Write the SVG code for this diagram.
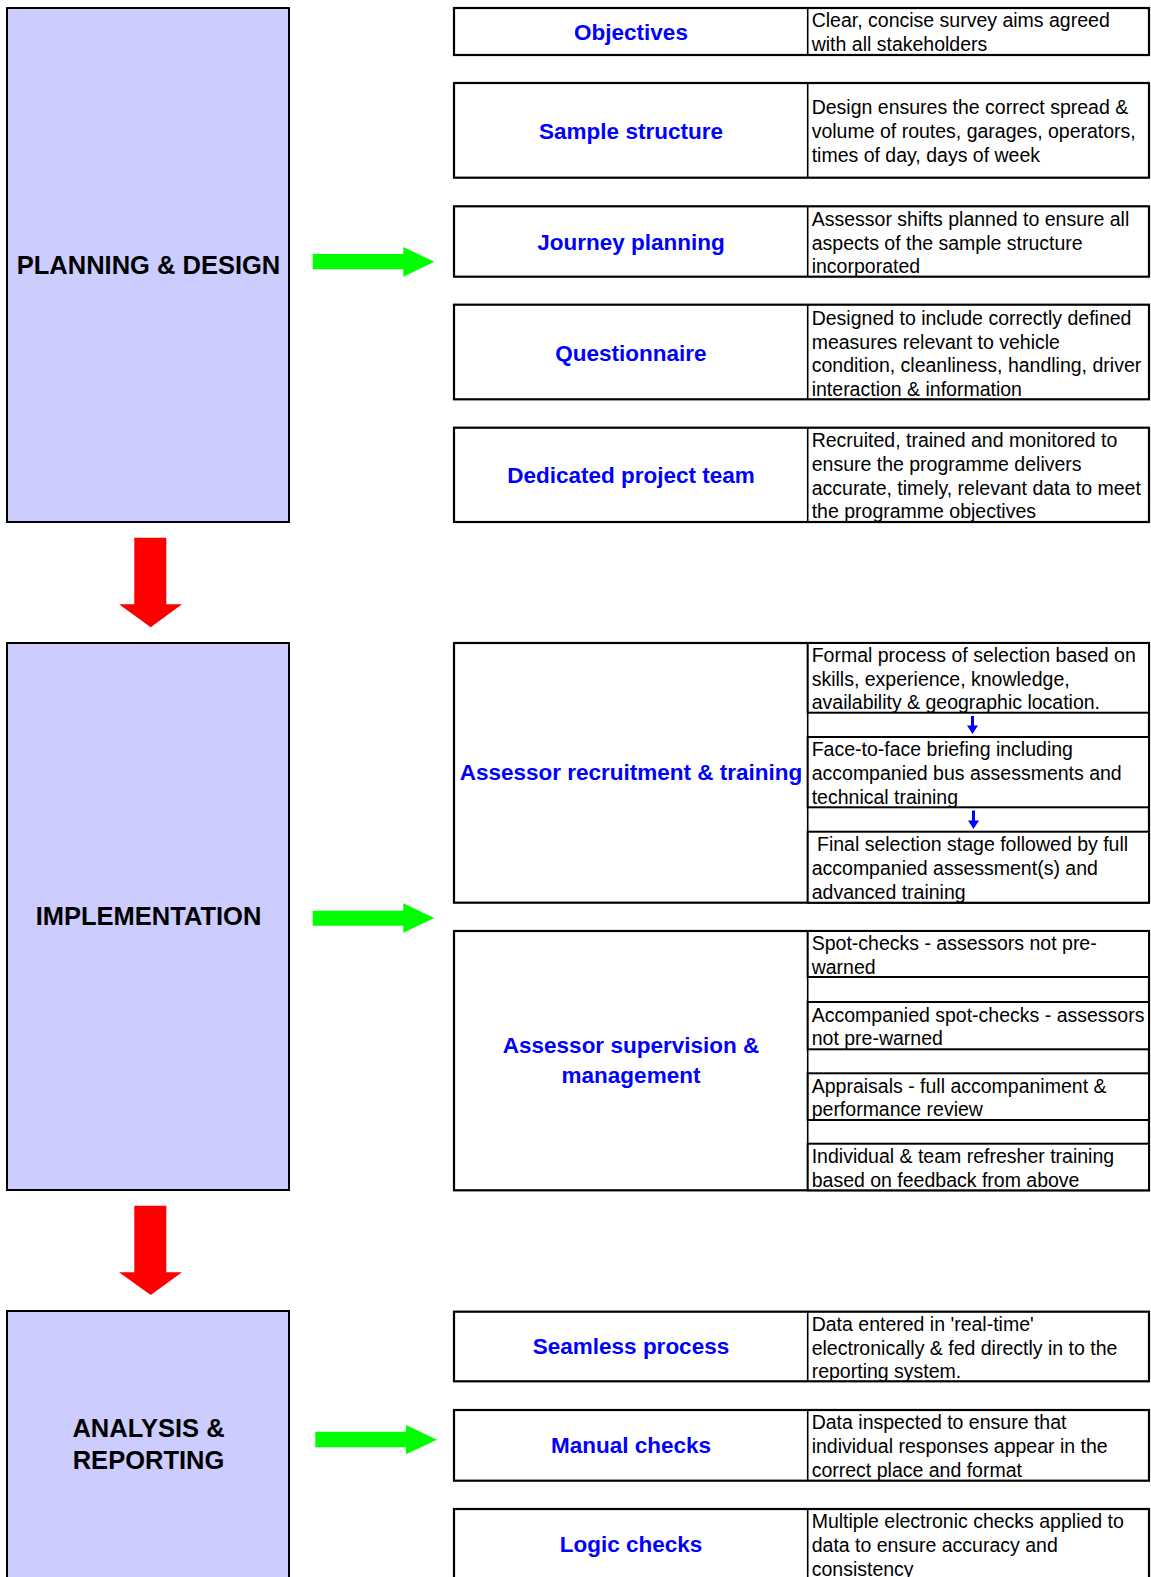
<svg xmlns="http://www.w3.org/2000/svg" width="1151" height="1577" viewBox="0 0 1151 1577">
<style>
.phase{fill:#CCCCFF;stroke:#000;stroke-width:2}
.box{fill:#fff;stroke:#000;stroke-width:2.2}
.div{stroke:#000;stroke-width:1.6}
.sub{fill:#fff;stroke:#000;stroke-width:2}
.plab{font-family:"Liberation Sans",Arial,sans-serif;font-weight:bold;font-size:25.5px;fill:#000;text-anchor:middle}
.blab{font-family:"Liberation Sans",Arial,sans-serif;font-weight:bold;font-size:22.5px;fill:#0000FF;text-anchor:middle}
.desc{font-family:"Liberation Sans",Arial,sans-serif;font-size:19.5px;fill:#000}
.green{fill:#00FF00}
.red{fill:#FF0000}
.blue{fill:#0000FF}
</style>
<rect width="1151" height="1577" fill="#fff"/>

<g id="planning">
<rect class="phase" x="7" y="8" width="282" height="514"/>
<text class="plab" x="148.5" y="274">PLANNING &amp; DESIGN</text>
</g>
<g id="implementation">
<rect class="phase" x="7" y="643" width="282" height="547"/>
<text class="plab" x="148.5" y="925">IMPLEMENTATION</text>
</g>
<g id="analysis">
<rect class="phase" x="7" y="1311" width="282" height="280"/>
<text class="plab" x="148.5" y="1437">ANALYSIS &amp;</text>
<text class="plab" x="148.5" y="1469">REPORTING</text>
</g>

<g id="objectives">
<rect class="box" x="454" y="8" width="695" height="47"/>
<line class="div" x1="807.7" y1="8" x2="807.7" y2="55"/>
<text class="blab" x="631" y="39.5">Objectives</text>
<text class="desc" x="811.7"><tspan x="811.7" y="26.5">Clear, concise survey aims agreed</tspan><tspan x="811.7" y="50.5">with all stakeholders</tspan></text>
</g>
<g id="sample-structure">
<rect class="box" x="454" y="83" width="695" height="94.7"/>
<line class="div" x1="807.7" y1="83" x2="807.7" y2="177.7"/>
<text class="blab" x="631" y="138.5">Sample structure</text>
<text class="desc"><tspan x="811.7" y="114.3">Design ensures the correct spread &amp;</tspan><tspan x="811.7" y="138.3">volume of routes, garages, operators,</tspan><tspan x="811.7" y="162.3">times of day, days of week</tspan></text>
</g>
<g id="journey-planning">
<rect class="box" x="454" y="206.3" width="695" height="70.4"/>
<line class="div" x1="807.7" y1="206.3" x2="807.7" y2="276.7"/>
<text class="blab" x="631" y="249.5">Journey planning</text>
<text class="desc"><tspan x="811.7" y="225.7">Assessor shifts planned to ensure all</tspan><tspan x="811.7" y="249.7">aspects of the sample structure</tspan><tspan x="811.7" y="273.3">incorporated</tspan></text>
</g>
<g id="questionnaire">
<rect class="box" x="454" y="304.7" width="695" height="94.6"/>
<line class="div" x1="807.7" y1="304.7" x2="807.7" y2="399.3"/>
<text class="blab" x="631" y="360.5">Questionnaire</text>
<text class="desc"><tspan x="811.7" y="324.8">Designed to include correctly defined</tspan><tspan x="811.7" y="348.8">measures relevant to vehicle</tspan><tspan x="811.7" y="372.3">condition, cleanliness, handling, driver</tspan><tspan x="811.7" y="396">interaction &amp; information</tspan></text>
</g>
<g id="dedicated-project-team">
<rect class="box" x="454" y="427.7" width="695" height="94.3"/>
<line class="div" x1="807.7" y1="427.7" x2="807.7" y2="522"/>
<text class="blab" x="631" y="483">Dedicated project team</text>
<text class="desc"><tspan x="811.7" y="446.8">Recruited, trained and monitored to</tspan><tspan x="811.7" y="470.8">ensure the programme delivers</tspan><tspan x="811.7" y="494.5">accurate, timely, relevant data to meet</tspan><tspan x="811.7" y="518">the programme objectives</tspan></text>
</g>

<g id="assessor-recruitment">
<rect class="box" x="454" y="643" width="695" height="259.7"/>
<line class="div" x1="807.7" y1="643" x2="807.7" y2="902.7"/>
<rect class="sub" x="807.7" y="643" width="341.3" height="69.7"/>
<rect class="sub" x="807.7" y="737" width="341.3" height="70.3"/>
<rect class="sub" x="807.7" y="831.7" width="341.3" height="71"/>
<text class="blab" x="631" y="780">Assessor recruitment &amp; training</text>
<text class="desc"><tspan x="811.7" y="662.3">Formal process of selection based on</tspan><tspan x="811.7" y="685.9">skills, experience, knowledge,</tspan><tspan x="811.7" y="709.3">availability &amp; geographic location.</tspan></text>
<text class="desc"><tspan x="811.7" y="756.4">Face-to-face briefing including</tspan><tspan x="811.7" y="780.2">accompanied bus assessments and</tspan><tspan x="811.7" y="804">technical training</tspan></text>
<text class="desc"><tspan x="817" y="851.2">Final selection stage followed by full</tspan><tspan x="811.7" y="875.2">accompanied assessment(s) and</tspan><tspan x="811.7" y="899">advanced training</tspan></text>
</g>

<g id="assessor-supervision">
<rect class="box" x="454" y="931" width="695" height="259.3"/>
<line class="div" x1="807.7" y1="931" x2="807.7" y2="1190.3"/>
<rect class="sub" x="807.7" y="931" width="341.3" height="46"/>
<rect class="sub" x="807.7" y="1002" width="341.3" height="47.3"/>
<rect class="sub" x="807.7" y="1073.3" width="341.3" height="46.7"/>
<rect class="sub" x="807.7" y="1143.7" width="341.3" height="46.6"/>
<text class="blab" x="631" y="1053.3">Assessor supervision &amp;</text>
<text class="blab" x="631" y="1082.5">management</text>
<text class="desc"><tspan x="811.7" y="950">Spot-checks - assessors not pre-</tspan><tspan x="811.7" y="973.5">warned</tspan></text>
<text class="desc"><tspan x="811.7" y="1021.5">Accompanied spot-checks - assessors</tspan><tspan x="811.7" y="1045">not pre-warned</tspan></text>
<text class="desc"><tspan x="811.7" y="1092.5">Appraisals - full accompaniment &amp;</tspan><tspan x="811.7" y="1116">performance review</tspan></text>
<text class="desc"><tspan x="811.7" y="1163">Individual &amp; team refresher training</tspan><tspan x="811.7" y="1186.5">based on feedback from above</tspan></text>
</g>

<g id="seamless-process">
<rect class="box" x="454" y="1311.7" width="695" height="69.6"/>
<line class="div" x1="807.7" y1="1311.7" x2="807.7" y2="1381.3"/>
<text class="blab" x="631" y="1354.3">Seamless process</text>
<text class="desc"><tspan x="811.7" y="1330.5">Data entered in 'real-time'</tspan><tspan x="811.7" y="1354.5">electronically &amp; fed directly in to the</tspan><tspan x="811.7" y="1378">reporting system.</tspan></text>
</g>
<g id="manual-checks">
<rect class="box" x="454" y="1410" width="695" height="70.7"/>
<line class="div" x1="807.7" y1="1410" x2="807.7" y2="1480.7"/>
<text class="blab" x="631" y="1453.3">Manual checks</text>
<text class="desc"><tspan x="811.7" y="1429.3">Data inspected to ensure that</tspan><tspan x="811.7" y="1453.3">individual responses appear in the</tspan><tspan x="811.7" y="1477">correct place and format</tspan></text>
</g>
<g id="logic-checks">
<rect class="box" x="454" y="1509" width="695" height="80"/>
<line class="div" x1="807.7" y1="1509" x2="807.7" y2="1589"/>
<text class="blab" x="631" y="1551.7">Logic checks</text>
<text class="desc"><tspan x="811.7" y="1528">Multiple electronic checks applied to</tspan><tspan x="811.7" y="1552">data to ensure accuracy and</tspan><tspan x="811.7" y="1575.5">consistency</tspan></text>
</g>

<g id="connectors">
<polygon class="green" points="312.7,254 403.3,254 403.3,247 434.3,261.7 403.3,276.7 403.3,269.3 312.7,269.3"/>
<polygon class="green" points="312.7,910.7 403.3,910.7 403.3,903.3 434.3,918 403.3,932.7 403.3,925.7 312.7,925.7"/>
<polygon class="green" points="315.3,1431.7 406,1431.7 406,1425 437,1439.7 406,1454.3 406,1447.3 315.3,1447.3"/>
<polygon class="red" points="134.3,537.7 166.3,537.7 166.3,604.3 182,604.3 150.7,627.3 119,604.3 134.3,604.3"/>
<polygon class="red" points="134.3,1205.7 166.3,1205.7 166.3,1272.3 182,1272.3 150.7,1295 119,1272.3 134.3,1272.3"/>
<polygon class="blue" points="971,716 974,716 974,725.5 978,725.5 972.5,734 967,725.5 971,725.5"/>
<polygon class="blue" points="972,810.5 975,810.5 975,820.5 979,820.5 973.5,829 968,820.5 972,820.5"/>
</g>
</svg>
